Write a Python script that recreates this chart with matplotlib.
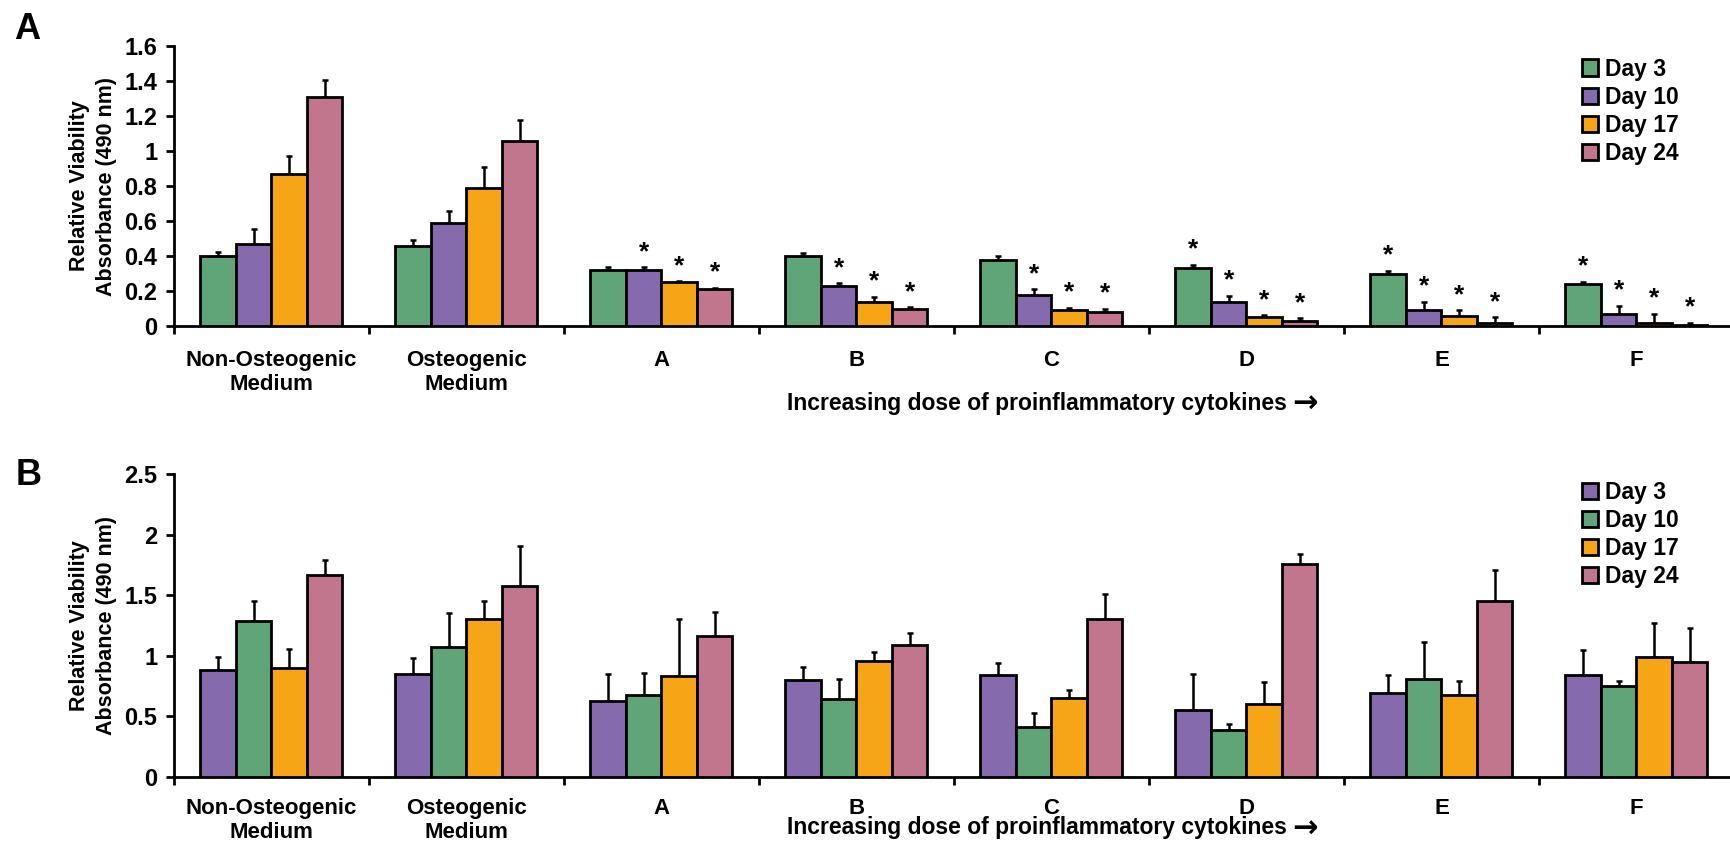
import matplotlib

matplotlib.use("Agg")
import matplotlib.pyplot as plt
import numpy as np

CATEGORIES = ["Non-Osteogenic\nMedium", "Osteogenic\nMedium", "A", "B", "C", "D", "E", "F"]
DAYS = ["Day 3", "Day 10", "Day 17", "Day 24"]

# Panel A: mean and upper error bar (one-sided SD)
A_DAY3 = [0.40, 0.46, 0.32, 0.40, 0.38, 0.33, 0.30, 0.24]
A_DAY10 = [0.47, 0.59, 0.32, 0.23, 0.18, 0.14, 0.09, 0.07]
A_DAY17 = [0.87, 0.79, 0.25, 0.14, 0.09, 0.05, 0.06, 0.02]
A_DAY24 = [1.31, 1.06, 0.21, 0.10, 0.08, 0.03, 0.015, 0.006]
A_ERR3 = [0.025, 0.03, 0.018, 0.02, 0.022, 0.02, 0.015, 0.011]
A_ERR10 = [0.085, 0.065, 0.015, 0.014, 0.03, 0.033, 0.05, 0.045]
A_ERR17 = [0.10, 0.12, 0.006, 0.026, 0.013, 0.012, 0.03, 0.049]
A_ERR24 = [0.095, 0.12, 0.008, 0.007, 0.019, 0.013, 0.034, 0.013]
# significance stars per category, one flag per day
A_STARS = [
    [0, 0, 0, 0],
    [0, 0, 0, 0],
    [0, 1, 1, 1],
    [0, 1, 1, 1],
    [0, 1, 1, 1],
    [1, 1, 1, 1],
    [1, 1, 1, 1],
    [1, 1, 1, 1],
]

# Panel B
B_DAY3 = [0.88, 0.85, 0.63, 0.80, 0.84, 0.55, 0.69, 0.84]
B_DAY10 = [1.29, 1.07, 0.68, 0.64, 0.41, 0.39, 0.81, 0.75]
B_DAY17 = [0.90, 1.30, 0.83, 0.96, 0.65, 0.60, 0.68, 0.99]
B_DAY24 = [1.67, 1.58, 1.16, 1.09, 1.30, 1.76, 1.45, 0.95]
B_ERR3 = [0.11, 0.13, 0.22, 0.11, 0.10, 0.30, 0.15, 0.21]
B_ERR10 = [0.16, 0.28, 0.18, 0.17, 0.12, 0.05, 0.30, 0.04]
B_ERR17 = [0.16, 0.15, 0.47, 0.07, 0.07, 0.18, 0.11, 0.28]
B_ERR24 = [0.12, 0.33, 0.20, 0.10, 0.21, 0.08, 0.26, 0.28]

GREEN = "#60A577"
PURPLE = "#856BAE"
ORANGE = "#F5A515"
PINK = "#C2768D"

FONT = ["Liberation Sans", "DejaVu Sans"]
plt.rcParams["font.family"] = FONT
plt.rcParams["font.weight"] = "bold"

BAR_W = 0.182
XLABEL = "Increasing dose of proinflammatory cytokines"


def _draw_panel(ax, series, errors, colors, ylim, yticks, ytick_labels, stars=None, xpad=17):
    x = np.arange(len(CATEGORIES))
    offsets = (np.arange(len(series)) - 1.5) * BAR_W
    for vals, errs, color, off, day in zip(series, errors, colors, offsets, DAYS):
        ax.bar(
            x + off, vals, BAR_W, color=color, edgecolor="black", linewidth=2.0,
            label=day, zorder=3,
        )
        ax.errorbar(
            x + off, vals, yerr=[np.zeros(len(errs)), errs], fmt="none",
            ecolor="black", elinewidth=1.8, capsize=2.2, capthick=1.8, zorder=2,
        )

    if stars is not None:
        for ci, flags in enumerate(stars):
            for di, flag in enumerate(flags):
                if not flag:
                    continue
                top = series[di][ci] + errors[di][ci]
                ax.annotate(
                    "*", (x[ci] + offsets[di], top), xytext=(0, 6),
                    textcoords="offset points", ha="center", va="baseline",
                    fontsize=19, fontweight="bold",
                )

    ax.set_xlim(-0.5, len(CATEGORIES) - 0.5)
    ax.set_ylim(*ylim)
    ax.set_yticks(yticks)
    ax.set_yticklabels(ytick_labels)
    ax.set_xticks(x)
    ax.set_xticklabels(CATEGORIES, fontsize=16, fontweight="bold", linespacing=1.2)
    ax.set_xticks(np.arange(len(CATEGORIES) + 1) - 0.5, minor=True)
    ax.tick_params(axis="x", which="major", length=0, pad=xpad)
    ax.tick_params(axis="x", which="minor", length=6, width=2, direction="out")
    ax.tick_params(axis="y", length=6, width=2, direction="out", labelsize=17, pad=6)
    for lab in ax.get_yticklabels():
        lab.set_fontweight("bold")
    for side in ("top", "right"):
        ax.spines[side].set_visible(False)
    for side in ("left", "bottom"):
        ax.spines[side].set_linewidth(2)
    ax.set_ylabel(
        "Relative Viability\nAbsorbance (490 nm)", fontsize=15.5, fontweight="bold",
        linespacing=1.4, labelpad=5,
    )
    label = ax.set_xlabel(XLABEL, fontsize=16.5, fontweight="bold")
    # arrow drawn in DejaVu so it gets a full-size glyph
    ax.annotate(
        "\u2192", xy=(1, 0.45), xycoords=label, xytext=(4, 0),
        textcoords="offset points", ha="left", va="center",
        fontsize=22, fontweight="bold", family="DejaVu Sans",
    )
    ax.legend(
        loc="upper left", frameon=False, fontsize=16.5,
        handlelength=0.7, handleheight=0.7, handletextpad=0.3, labelspacing=0.22,
        borderpad=0,
    )


fig = plt.figure(figsize=(17.31, 8.42), dpi=100)

ax_a = fig.add_axes([0.1005, 0.6128, 0.9012, 0.3325])
_draw_panel(
    ax_a,
    [A_DAY3, A_DAY10, A_DAY17, A_DAY24],
    [A_ERR3, A_ERR10, A_ERR17, A_ERR24],
    [GREEN, PURPLE, ORANGE, PINK],
    (0, 1.6),
    np.arange(0, 1.61, 0.2),
    ["0", "0.2", "0.4", "0.6", "0.8", "1", "1.2", "1.4", "1.6"],
    stars=A_STARS,
)
ax_a.xaxis.set_label_coords(0.553, -0.235)
ax_a.get_legend().set_bbox_to_anchor((0.895, 1.0))

ax_b = fig.add_axes([0.1005, 0.0772, 0.9012, 0.3598])
_draw_panel(
    ax_b,
    [B_DAY3, B_DAY10, B_DAY17, B_DAY24],
    [B_ERR3, B_ERR10, B_ERR17, B_ERR24],
    [PURPLE, GREEN, ORANGE, PINK],
    (0, 2.5),
    np.arange(0, 2.51, 0.5),
    ["0", "0.5", "1", "1.5", "2", "2.5"],
    xpad=15,
)
ax_b.xaxis.set_label_coords(0.553, -0.13)
ax_b.get_legend().set_bbox_to_anchor((0.895, 1.015))

fig.text(0.008, 0.986, "A", fontsize=26, fontweight="bold", va="top")
fig.text(0.009, 0.456, "B", fontsize=26, fontweight="bold", va="top")

fig.savefig("out.png", dpi=100)
